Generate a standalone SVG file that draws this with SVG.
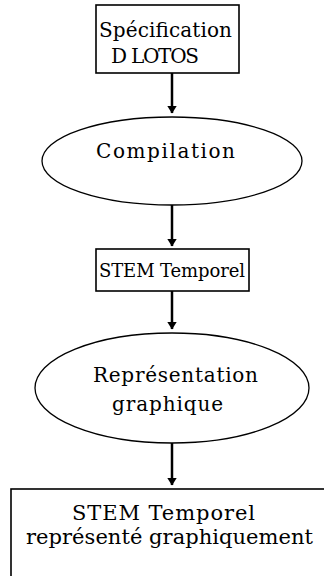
<svg xmlns="http://www.w3.org/2000/svg" width="324" height="576" viewBox="0 0 324 576">
<style>
.box{fill:#fff;stroke:#000;stroke-width:1.6}
.ell{fill:#fff;stroke:#000;stroke-width:1.3}
.t{font-family:"DejaVu Serif","Liberation Serif",serif;font-size:20px;fill:#000}
.s18{font-size:18px}
.s21{font-size:21px}
.arr{stroke:#000;stroke-width:2.5;fill:none;marker-end:url(#ah)}
</style>
<defs>
<marker id="ah" markerWidth="4" markerHeight="4" refX="3" refY="2" orient="auto" markerUnits="strokeWidth">
<path d="M0,0 L3.2,2 L0,4 Z" fill="#000"/>
</marker>
</defs>
<g id="connectors">
<line class="arr" x1="172" y1="73" x2="172" y2="113"/>
<line class="arr" x1="172" y1="205" x2="172" y2="246"/>
<line class="arr" x1="172" y1="291" x2="172" y2="329"/>
<line class="arr" x1="172" y1="443" x2="172" y2="485"/>
</g>
<g id="n1">
<rect class="box" x="96" y="5" width="143" height="68"/>
<text class="t" x="99" y="37" textLength="133">Spécification</text>
<text class="t" x="111" y="63" textLength="88">D LOTOS</text>
</g>
<g id="n2">
<ellipse class="ell" cx="172" cy="161" rx="130" ry="44"/>
<text class="t" x="96" y="158" textLength="139">Compilation</text>
</g>
<g id="n3">
<rect class="box" x="96" y="249" width="153" height="42"/>
<text class="t s18" x="99" y="277" textLength="146">STEM Temporel</text>
</g>
<g id="n4">
<ellipse class="ell" cx="172" cy="388" rx="137" ry="55"/>
<text class="t" x="93" y="382" textLength="165">Représentation</text>
<text class="t" x="112" y="411" textLength="111">graphique</text>
</g>
<g id="n5">
<rect class="box" x="11" y="489" width="320" height="100"/>
<text class="t s21" x="72" y="520" textLength="183">STEM Temporel</text>
<text class="t s21" x="26" y="544" textLength="287">représenté graphiquement</text>
</g>
</svg>
